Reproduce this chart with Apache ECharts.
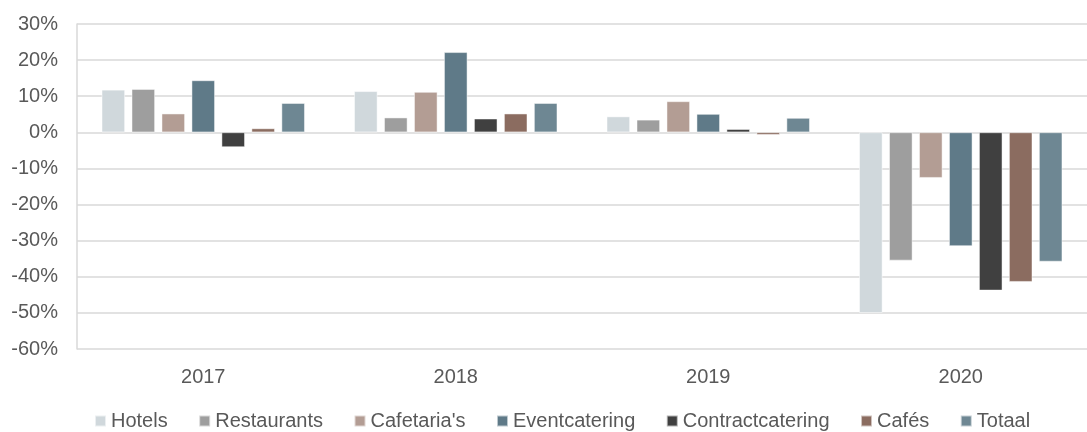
<!DOCTYPE html>
<html><head><meta charset="utf-8">
<script src="https://cdn.jsdelivr.net/npm/echarts@6/dist/echarts.min.js"></script>
<style>html,body{margin:0;padding:0;background:#fff}#c{width:1087px;height:432px}</style>
</head><body><div id="c"></div>
<script>
const categories = ['2017','2018','2019','2020'];
const seriesNames = ['Hotels','Restaurants',"Cafetaria's",'Eventcatering','Contractcatering','Cafés','Totaal'];
const hotels = [11.8, 11.4, 4.4, -50.0];
const restaurants = [12.0, 4.1, 3.5, -35.5];
const cafetarias = [5.2, 11.2, 8.6, -12.6];
const eventcatering = [14.4, 22.2, 5.1, -31.5];
const contractcatering = [-4.1, 3.8, 0.9, -43.8];
const cafes = [1.1, 5.2, -0.7, -41.4];
const totaal = [8.1, 8.1, 4.0, -35.8];
const yTicks = [-60, 30, 10];
const colors = ['#d0d8dc','#9e9e9e','#b39d94','#5f7a88','#404040','#8b6c60','#6e8793'];
const values = [hotels, restaurants, cafetarias, eventcatering, contractcatering, cafes, totaal];

const font = 'Liberation Sans, Arial';
const chart = echarts.init(document.getElementById('c'), null, {renderer:'canvas'});
chart.setOption({
  animation:false,
  color: colors,
  grid:{left:77, right:0, top:24, bottom:83, containLabel:false},
  legend:{
    top:406, left:89, itemWidth:11, itemHeight:11, itemGap:30.5,
    icon:'rect',
    textStyle:{fontFamily:font, fontSize:20, color:'#595959'},
    data: seriesNames
  },
  xAxis:{
    type:'category', data:categories,
    axisLine:{show:false}, axisTick:{show:false},
    axisLabel:{fontFamily:font, fontSize:20, color:'#595959', margin:18}
  },
  yAxis:{
    type:'value', min:yTicks[0], max:yTicks[1], interval:yTicks[2],
    axisLine:{show:true, lineStyle:{color:'#d9d9d9', width:1.5}},
    axisTick:{show:false},
    splitLine:{lineStyle:{color:'#d9d9d9', width:1.5}},
    axisLabel:{formatter:'{value}%', fontFamily:font, fontSize:20, color:'#595959', margin:19}
  },
  series: seriesNames.map((n,i)=>({
    name:n, type:'bar', data:values[i],
    barGap:'28%', barCategoryGap:'19.5%',
    itemStyle:{color:colors[i], borderColor:'rgba(255,255,255,0.6)', borderWidth:0.8}
  }))
});
</script></body></html>
